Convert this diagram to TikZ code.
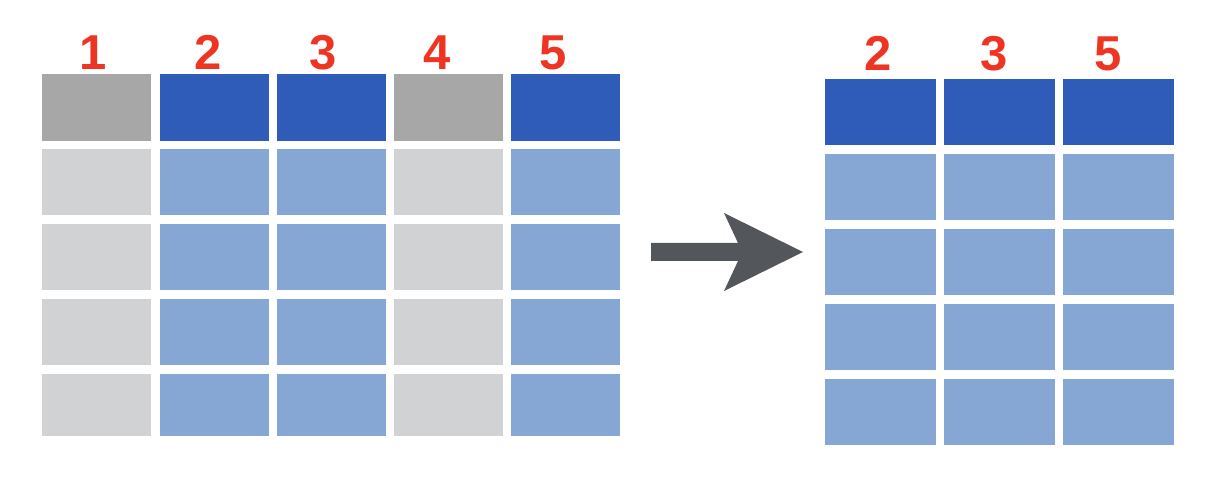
\documentclass[tikz,border=0pt]{standalone}
\usepackage{fontspec}
\setmainfont{Liberation Sans}
\definecolor{greyhead}{HTML}{A6A7A6}
\definecolor{greybody}{HTML}{D1D2D3}
\definecolor{bluehead}{HTML}{2F5CB8}
\definecolor{bluebody}{HTML}{86A7D4}
\definecolor{arrowgrey}{HTML}{53565B}
\definecolor{numred}{HTML}{EE3524}
\begin{document}
\begin{tikzpicture}[x=1pt,y=-1pt,
    cell/.style={anchor=north west,inner sep=0pt,outer sep=0pt,minimum width=#1,minimum height=66pt},
    colnum/.style={anchor=base,inner sep=0pt,text=numred,font=\fontsize{49}{49}\selectfont\bfseries}]
    \useasboundingbox (0,0) rectangle (1210,478);
    % left table, all five columns
    \foreach \c/\x/\lx/\hd/\bd in {1/42/93/greyhead/greybody,2/159.5/208/bluehead/bluebody,
        3/276.5/323/bluehead/bluebody,4/393.5/437/greyhead/greybody,5/511/553/bluehead/bluebody}{
        \node[cell=109pt,minimum height=67pt,fill=\hd] (L\c-0) at (\x,74) {};
        \foreach \r in {1,2,3}
            \node[cell=109pt,fill=\bd] (L\c-\r) at (\x,{74+75*\r}) {};
        \node[cell=109pt,minimum height=62pt,fill=\bd] (L\c-4) at (\x,374) {};
        \node[colnum] (Lnum\c) at (\lx,70) {\c};
    }
    % right table, kept columns
    \foreach \c/\x/\lx in {2/825/878,3/944/994,5/1063/1108}{
        \node[cell=111pt,fill=bluehead] (R\c-0) at (\x,79) {};
        \foreach \r in {1,2,3,4}
            \node[cell=111pt,fill=bluebody] (R\c-\r) at (\x,{79+75*\r}) {};
        \node[colnum] (Rnum\c) at (\lx,71) {\c};
    }
    % arrow
    \fill[arrowgrey] (651,243) -- (738,243) -- (724,213) -- (803,252)
        -- (724,291) -- (738,261) -- (651,261) -- cycle;
\end{tikzpicture}
\end{document}
